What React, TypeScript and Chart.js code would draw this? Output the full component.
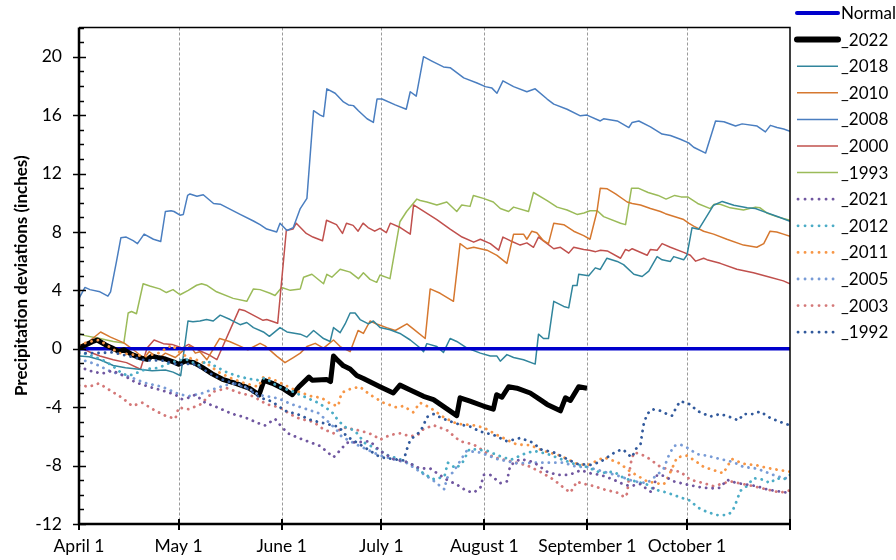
import React, { useEffect, useRef } from "react";
import { Chart, registerables } from "chart.js";

Chart.register(...registerables);

type P = [number, number];

// x = days since April 1, y = precipitation deviation (inches)
const monthDays = [0, 30, 61, 91, 122, 153, 183, 214];
const monthLabels = ["April 1", "May 1", "June 1", "July 1", "August 1", "September 1", "October 1", ""];
const yTicks = [-12, -8, -4, 0, 4, 8, 12, 16, 20];

const sNormal: P[] = [[0, 0], [214, 0]];

const s2022: P[] = [[0,0.05],[2,0.26],[4,0.48],[5.5,0.6],[8,0.26],[10,0.05],[12,-0.18],[13.5,-0.07],[16,-0.4],[18.5,-0.62],[20.5,-0.73],[22,-0.5],[24,-0.62],[26,-0.7],[29,-0.95],[30,-1.06],[32,-0.84],[34.6,-0.95],[37.1,-1.28],[40.1,-1.72],[43.2,-2.09],[47.2,-2.37],[51.2,-2.7],[54.2,-3.15],[55.7,-2.16],[58.2,-2.37],[61.2,-2.7],[64.2,-3.15],[66.2,-2.6],[69.2,-1.94],[70.2,-2.16],[74.5,-2.1],[75.7,-2.25],[76.6,-0.5],[77.6,-0.73],[79.6,-1.17],[81.6,-1.39],[83.6,-1.83],[85.6,-2.04],[90.6,-2.6],[94.6,-3.03],[96.6,-2.49],[99.7,-2.82],[103.7,-3.26],[106.7,-3.48],[113.7,-4.58],[114.7,-3.36],[117.7,-3.59],[121.7,-3.92],[124.7,-4.14],[125.7,-3.15],[127.3,-3.32],[129.3,-2.6],[131.8,-2.7],[135.8,-3.03],[138.8,-3.48],[140.9,-3.81],[144.9,-4.25],[146.4,-3.36],[147.9,-3.54],[150.4,-2.6],[152.9,-2.7]];

const s2018: P[] = [[0,-0.5],[3,-0.55],[6.3,-0.75],[10.3,-1.15],[14,-1.3],[18,-1.4],[22,-1.5],[26,-1.45],[28.3,-1.6],[30.6,-1.85],[32.8,1.9],[34.3,1.85],[36.4,1.9],[38.4,2.0],[40.4,1.9],[42.5,2.3],[45.5,2.0],[48.5,1.65],[50.5,1.8],[52.5,1.45],[55.5,1.15],[57.3,0.85],[60.5,1.45],[62.6,1.15],[66.6,1.0],[68.6,0.8],[70.6,1.25],[73.6,0.7],[75.6,0.5],[76.6,1.45],[78.6,1.1],[80.1,1.7],[81.6,2.45],[83.1,2.45],[84.6,2.0],[87.1,1.7],[88.6,1.9],[90.6,1.45],[93.6,1.3],[96.6,1.05],[99.7,0.6],[102.7,0.05],[103.7,-0.2],[104.7,0.35],[107.7,0.15],[109.7,-0.25],[111.7,0.7],[113.7,0.5],[116.8,0.05],[120.8,-0.3],[123.8,-0.5],[125.8,-0.5],[126.8,-0.85],[128.8,-0.4],[130.8,-0.6],[133.8,-0.75],[137.3,-1.05],[138.3,1.0],[139.8,0.7],[141.3,0.7],[142.9,3.25],[145.9,2.9],[147.4,2.8],[148.6,4.33],[149.9,4.33],[150.4,5.1],[153.4,5.0],[155.4,5.54],[156.9,5.43],[158.9,6.2],[162,5.98],[163.9,5.76],[167,5.1],[169.5,4.95],[171.5,5.32],[174,6.31],[175.5,6.09],[178,5.98],[179,6.31],[182,6.09],[183,6.42],[184.5,8.28],[186.5,8.18],[188,8.73],[191,9.83],[193.6,10.09],[197.1,9.83],[201.1,9.65],[203.6,9.6],[206.1,9.39],[210.2,9.06],[214,8.73]];

const s2010: P[] = [[0,0.2],[3,0.5],[6.5,1.15],[9.5,0.8],[13.5,0.4],[16,0.0],[19.6,-0.65],[21.1,-0.2],[24.1,-0.65],[26,-0.3],[29,-0.6],[31,-0.2],[33.5,0.2],[35,-0.3],[36.4,-0.2],[38.5,-0.75],[42.3,0.7],[45.3,0.5],[48.3,0.2],[50.8,-0.07],[54.5,0.37],[56,0.2],[59.5,-0.5],[62,-0.95],[64.5,-0.6],[66.6,-0.3],[68.6,0.15],[71.1,0.37],[73.6,0.04],[76.6,0.6],[78.6,0.15],[81.6,-0.2],[84,1.25],[85.6,1.05],[87.6,1.9],[89.6,1.7],[92.6,1.45],[95.2,1.25],[98.7,1.7],[100.7,1.35],[104.2,0.7],[105.7,4.1],[108.7,3.8],[112.7,3.25],[114.7,7.2],[116.8,6.85],[118.8,6.95],[122.8,6.75],[125.8,6.4],[128.8,5.85],[130.8,7.85],[133.8,7.85],[134.8,7.5],[136.3,8.05],[137.8,7.95],[139.8,7.4],[141.3,7.2],[142.9,8.6],[145.9,8.5],[148.9,8.05],[151.9,7.75],[153.8,7.5],[155.9,9.4],[156.9,11.0],[159,10.95],[161.5,10.6],[165,10.05],[166.5,9.95],[169,9.85],[172,9.6],[175,9.4],[176.5,9.25],[182,8.85],[183.5,8.6],[185,8.4],[188,8.05],[191,7.85],[195,7.5],[200,7.1],[204,6.95],[206.1,7.2],[208,8.05],[210,8.0],[212,7.85],[214,7.7]];

const s2008: P[] = [[0,3.45],[1.8,4.2],[3.3,4.05],[6.3,3.9],[8.7,3.6],[9.5,3.9],[11.3,6.0],[12.6,7.6],[14.2,7.65],[16.3,7.4],[17.6,7.2],[19.6,7.85],[22.4,7.5],[24.6,7.35],[26,9.4],[27.7,9.45],[28.6,9.4],[30.4,9.15],[31.4,9.2],[32.7,10.5],[33.4,10.6],[35.5,10.45],[37.4,10.55],[40.5,9.95],[42.5,9.9],[48.5,9.2],[52.5,8.75],[54.5,8.5],[56.5,8.2],[59.5,8.0],[60.5,8.6],[62.6,8.1],[64.5,8.3],[66.6,9.6],[68.6,10.3],[70.6,16.3],[72.6,16.0],[73.6,15.9],[74.6,17.8],[77.1,17.5],[79.6,16.9],[81.1,16.7],[82.6,16.65],[84.1,16.3],[86.7,15.75],[88.6,15.5],[89.7,17.1],[91.2,17.1],[95.2,16.7],[98.5,16.4],[99.7,17.6],[101.5,17.3],[103.7,20.0],[106.2,19.7],[109.7,19.3],[111.7,19.25],[115.8,18.55],[119.8,18.2],[122.3,17.95],[124.3,17.85],[125.8,17.5],[127.6,18.35],[130.8,17.95],[134.8,17.6],[137.3,17.8],[140.9,17.1],[142.9,16.75],[146.9,16.4],[150.9,15.95],[152.9,16.0],[156.9,15.6],[157.9,15.75],[162,15.6],[165.5,15.15],[166.5,15.5],[168.5,15.6],[172,15.2],[175.5,14.7],[178,14.6],[181,14.35],[183.5,14.1],[185,13.8],[188.6,13.4],[191.6,15.6],[194.1,15.55],[197.6,15.25],[199.6,15.4],[204.1,15.25],[206.6,14.85],[208.1,15.3],[210.1,15.15],[212.1,15.05],[214,14.9]];

const s2000: P[] = [[0,0.1],[3,-0.2],[6.3,-0.5],[10.3,-0.75],[14.3,-0.95],[18.5,-1.4],[20.5,0.05],[22.6,0.6],[25.4,0.35],[28,0.3],[31,0.05],[33,0.3],[36,-0.1],[39,-0.4],[41.5,-0.75],[48.2,2.7],[50,2.6],[55.4,1.95],[56.5,2.0],[59.8,1.75],[62.4,8.1],[64.4,8.2],[65.4,8.6],[68.4,7.9],[70.4,7.65],[73.3,7.4],[74.5,8.8],[77.5,8.5],[79.3,7.9],[80.5,8.6],[82.5,8.45],[84,8.05],[85.5,8.6],[87,8.3],[89,8.05],[90.6,8.25],[92.5,7.95],[93.7,8.6],[96.7,8.3],[99.7,7.85],[100.7,9.85],[103.2,9.5],[107.7,8.85],[111.7,8.2],[115.3,7.65],[118.8,7.3],[120.8,7.5],[123.8,7.2],[126.3,6.75],[127.6,7.65],[129.8,7.4],[132.8,7.1],[134.8,7.25],[136.8,6.95],[138.3,7.65],[140.9,7.2],[142.9,6.85],[144.9,6.95],[147.4,6.55],[148.9,6.95],[151.9,6.8],[153.6,6.75],[155.5,6.65],[157,6.75],[159,6.7],[163,6.2],[164.5,6.8],[165.5,6.7],[166.5,6.85],[171,6.4],[172,6.8],[174,6.75],[175.5,7.2],[178,6.95],[182,6.6],[184,6.4],[185.6,6.0],[188,6.2],[189,6.1],[193,5.85],[198,5.45],[203,5.2],[208,4.9],[212,4.65],[214,4.45]];

const s1993: P[] = [[0,1.05],[1.8,0.9],[6.3,0.7],[10.3,0.5],[13.5,0.4],[14.8,2.45],[15.8,2.55],[17.3,2.4],[19.3,4.45],[21.3,4.3],[24.3,4.1],[26.3,3.85],[28.3,4.05],[30.4,3.7],[32.9,4.0],[35.4,4.35],[36.9,4.45],[38.4,4.35],[41.4,3.9],[46.4,3.45],[50.5,3.25],[52.5,4.1],[54.5,4.05],[57.5,3.8],[59,3.65],[61,4.2],[63.6,4.0],[66.6,4.1],[67.6,4.9],[70.1,5.1],[73.6,4.45],[74.6,5.1],[76.1,4.9],[78.6,5.45],[81.6,5.25],[84.1,4.8],[85.6,5.2],[87.6,4.75],[89.6,4.55],[90.6,5.05],[93.6,4.8],[96.6,8.7],[98.6,9.4],[101.7,10.25],[102.7,10.15],[104.7,10.05],[107.7,9.85],[110.7,10.05],[113.7,9.4],[115.2,9.85],[117.7,9.75],[118.7,10.5],[121.7,10.3],[124.7,10.05],[126.8,9.6],[129.3,9.4],[130.8,9.7],[135.3,9.4],[136.8,10.7],[140.9,10.15],[143.9,9.7],[146.9,9.5],[149.9,9.2],[152,9.3],[153.8,9.45],[156,9.45],[157.9,9.05],[163,8.6],[164.5,8.5],[166.3,11.0],[168.3,11.0],[171.3,10.7],[174.3,10.5],[176.7,10.25],[179.3,10.5],[181.2,10.4],[183.2,10.4],[186.2,9.95],[190,9.6],[191.2,9.9],[193,9.9],[196,9.65],[200,9.5],[203.6,9.7],[205,9.65],[207,9.3],[210,9.05],[214,8.8]];

const s2021: P[] = [[0,-1.2],[3,-1.5],[7,-1.7],[10,-1.5],[14,-1.9],[17,-2.3],[21,-2.6],[25,-2.85],[29,-3.15],[31,-3.45],[33,-3.35],[35,-3.15],[38,-3.7],[41,-3.95],[46,-4.45],[50,-4.7],[54,-5.1],[56,-5.25],[59,-4.8],[61,-5.35],[63,-5.8],[66,-6.1],[72.6,-6.66],[76.6,-7.43],[78,-7.1],[80.6,-6.44],[84,-6.4],[87.6,-6.33],[90.6,-6.99],[94.6,-7.55],[98.7,-7.76],[102.7,-8.2],[105.7,-8.2],[110.7,-8.97],[113.7,-9.3],[116.7,-9.74],[118.8,-9.85],[120.8,-9.52],[121.8,-8.64],[123.8,-8.64],[126.8,-9.2],[128.8,-9.08],[129.8,-7.98],[132.8,-7.55],[136.8,-7.76],[140.9,-8.42],[144,-8.64],[146.9,-8.64],[148.9,-8.53],[151,-8.31],[154,-8.53],[157,-8.64],[161,-8.97],[164,-9.3],[166,-9.41],[169,-9.26],[171,-9.63],[172.5,-9.85],[174,-8.64],[176,-8.69],[179,-9.08],[183,-9.3],[187,-9.48],[190,-9.56],[193,-9.52],[195,-8.97],[198,-9.2],[201,-9.3],[204,-9.41],[207,-9.63],[210,-9.74],[213,-9.85],[214,-9.74]];

const s2012: P[] = [[0,-0.2],[4,-0.5],[7,-0.75],[10,-1.15],[13,-1.7],[15,-1.85],[18,-1.6],[20,-1.4],[24,-1.3],[27,-1.0],[30,-0.8],[32.4,-0.73],[36.4,-1.17],[38.5,-0.8],[41,-1.2],[44.4,-1.6],[47.4,-1.85],[51,-2.05],[54,-2.15],[56,-2.0],[60,-2.6],[64,-2.9],[68,-3.3],[72,-3.7],[76,-4.3],[78,-4.9],[80,-5.35],[83,-5.6],[86,-6.45],[90,-6.9],[93,-7.3],[97,-7.6],[101,-8.0],[104,-8.6],[107,-8.95],[110,-8.75],[111,-7.8],[113.5,-8.2],[115.5,-7.76],[117.5,-6.88],[120,-6.9],[123,-7.0],[126,-7.3],[130,-7.6],[134,-7.2],[137,-7.0],[141,-7.2],[145,-7.55],[149,-7.88],[153,-8.1],[157,-8.5],[161,-8.42],[164,-8.86],[171,-9.3],[173,-9.63],[177,-9.85],[181,-10.18],[184,-10.4],[186,-10.84],[189,-11.17],[192,-11.39],[195,-11.39],[196.6,-11.17],[198,-10.4],[199,-9.74],[201,-9.41],[203,-8.86],[206,-8.97],[208,-9.2],[210,-8.86],[212,-8.97],[214,-8.64]];

const s2011: P[] = [[0,0.26],[3,0.48],[6,0.6],[9,0.15],[12,-0.29],[16,-0.4],[20,-0.51],[24,-0.29],[28,0.26],[30,-0.2],[33,-0.62],[35,-0.73],[39,-1.1],[42,-1.6],[46,-2.04],[50,-2.37],[54,-2.6],[55.5,-1.94],[58,-2.04],[62,-2.49],[66,-2.93],[70,-3.26],[73,-3.36],[76,-3.81],[78,-3.92],[79,-3.03],[81,-2.8],[84.5,-2.6],[87.6,-3.15],[91.6,-3.69],[95.6,-4.02],[97.6,-3.92],[100.6,-4.35],[102.6,-3.69],[105.6,-4.02],[109.7,-4.68],[113.7,-5.13],[118.8,-5.24],[121.8,-5.4],[125.8,-5.9],[131.8,-6.56],[135.8,-6.6],[139.8,-6.99],[144.9,-7.32],[149.9,-7.88],[153,-7.98],[157,-7.55],[157.9,-7.43],[160,-7.6],[162,-7.76],[163.5,-7.98],[166,-8.42],[168.5,-8.75],[171,-9.08],[176,-9.3],[177.5,-8.7],[178.5,-8.2],[180,-7.43],[183,-7.32],[186,-7.76],[188,-8.09],[191,-8.31],[194,-8.53],[195,-8.09],[196.6,-7.55],[200,-7.88],[204,-7.98],[207,-8.16],[211,-8.31],[214,-8.42]];

const s2005: P[] = [[0,-0.7],[5,-1.05],[10,-1.6],[15,-1.9],[20,-2.35],[25,-2.6],[30,-3.1],[33,-3.25],[37,-3.05],[40,-2.8],[44,-2.5],[47,-2.35],[51,-2.7],[54,-3.15],[60,-3.4],[64,-3.8],[68,-4.1],[72,-4.4],[75,-5.0],[77.6,-5.57],[79,-6.0],[83,-6.5],[86.5,-6.88],[90.5,-7.3],[94.5,-7.55],[98.5,-7.8],[102.5,-8.4],[106.5,-9.0],[110,-9.63],[110.7,-8.86],[112.7,-8.42],[115.7,-7.32],[116.7,-6.99],[120.8,-7.1],[125.8,-7.55],[131.8,-7.85],[137.8,-7.8],[145.8,-7.8],[149.9,-8.09],[153,-8.1],[158,-8.42],[163,-8.75],[167,-9.08],[171,-9.2],[174,-8.64],[176,-8.2],[177.5,-7.32],[179,-6.66],[181,-6.56],[183,-6.77],[186,-7.21],[189,-7.32],[193,-7.55],[197,-7.76],[200,-8.09],[204,-8.2],[209,-8.64],[212,-8.86],[214,-8.86]];

const s2003: P[] = [[0,-2.5],[3,-2.6],[6,-2.37],[9,-2.8],[13,-3.36],[16,-3.92],[19,-3.69],[23,-4.25],[26,-4.58],[29,-4.8],[30,-4.02],[33,-4.14],[36.5,-3.81],[40.5,-2.93],[44.5,-2.7],[48.5,-3.03],[52.5,-3.26],[56.5,-3.81],[60.5,-4.02],[63.5,-4.47],[66.5,-4.8],[70.5,-5.0],[73.5,-5.5],[76.6,-5.79],[79.6,-5.4],[82.6,-5.5],[86,-5.7],[88.6,-5.9],[90.6,-6.23],[93.7,-5.9],[96.7,-5.79],[99.7,-6.0],[102,-5.9],[103.7,-5.5],[106.7,-5.24],[110.7,-5.57],[114.7,-6.33],[118.8,-6.56],[124.8,-7.43],[130.8,-7.76],[134.8,-7.98],[138.8,-8.42],[142.9,-8.97],[145.9,-9.52],[147.9,-9.85],[149.9,-9.08],[151,-9.2],[155,-9.41],[158,-9.63],[162,-9.85],[164.3,-10.18],[165,-9.9],[166,-7.88],[167,-7.1],[169,-7.21],[171,-7.43],[175,-8.09],[178,-8.31],[181,-8.42],[184,-8.97],[188,-9.2],[191,-9.41],[196,-9.08],[203,-9.41],[207,-9.63],[211,-9.85],[214,-9.7]];

const s1992: P[] = [[0,-0.3],[5,-0.3],[10,-0.25],[15,-0.5],[20,-0.8],[25,-0.8],[30,-1.1],[34,-1.0],[37,-1.35],[40,-1.75],[43,-2.1],[47,-2.4],[51,-2.75],[54.5,-3.35],[58,-3.6],[62,-4.25],[66,-4.5],[70,-4.9],[74.3,-5.13],[78.2,-5.35],[80.6,-6.0],[84.6,-6.56],[90.7,-7.43],[97.7,-7.65],[98.7,-6.88],[99.7,-6.23],[102.7,-5.67],[103.7,-5.24],[104.7,-4.68],[106.7,-4.47],[109.7,-4.8],[113.7,-5.13],[117.8,-5.34],[120.8,-5.67],[124.8,-5.9],[128.8,-6.33],[132.8,-6.11],[136.8,-6.44],[138.8,-6.88],[142.9,-7.1],[146.9,-7.55],[149.9,-7.88],[153.9,-7.95],[156.9,-7.75],[158.9,-7.45],[161.9,-7.0],[163.9,-6.9],[165,-7.21],[166.5,-7.43],[167.5,-6.88],[169,-6.56],[169.5,-5.79],[170,-5.13],[171,-4.47],[172.5,-4.14],[175,-4.25],[177,-4.47],[178.5,-4.58],[180,-3.92],[181,-3.59],[184,-3.81],[186,-4.25],[190,-4.64],[193,-4.47],[196,-4.68],[198.5,-4.91],[200,-4.47],[203,-4.47],[205,-4.29],[208,-4.73],[211,-5.01],[214,-5.24]];

type Spec = { label: string; data: P[]; color: string; width: number; dotted: boolean; order: number };

const seriesTable: Spec[] = [
  { label: "Normal", data: sNormal, color: "#0000CC", width: 3.5, dotted: false, order: 6 },
  { label: "_2022", data: s2022, color: "#000000", width: 5, dotted: false, order: 5 },
  { label: "_2018", data: s2018, color: "#31859C", width: 1.5, dotted: false, order: 10 },
  { label: "_2010", data: s2010, color: "#D6782F", width: 1.5, dotted: false, order: 10 },
  { label: "_2008", data: s2008, color: "#4A7EC0", width: 1.5, dotted: false, order: 10 },
  { label: "_2000", data: s2000, color: "#C0504D", width: 1.5, dotted: false, order: 10 },
  { label: "_1993", data: s1993, color: "#9BBB59", width: 1.5, dotted: false, order: 10 },
  { label: "_2021", data: s2021, color: "#7057A0", width: 2.8, dotted: true, order: 2 },
  { label: "_2012", data: s2012, color: "#4BACC6", width: 2.8, dotted: true, order: 2 },
  { label: "_2011", data: s2011, color: "#F79646", width: 2.8, dotted: true, order: 2 },
  { label: "_2005", data: s2005, color: "#789BD6", width: 2.8, dotted: true, order: 2 },
  { label: "_2003", data: s2003, color: "#D47878", width: 2.8, dotted: true, order: 2 },
  { label: "_1992", data: s1992, color: "#31599C", width: 2.8, dotted: true, order: 1 },
];

const FONT = "Lato, 'Open Sans', 'DejaVu Sans', sans-serif";

const framePlugin = {
  id: "frameAndLegend",
  beforeDatasetsDraw(chart: any) {
    const { ctx, chartArea: a, scales } = chart;
    const x = scales.x;
    ctx.save();
    ctx.strokeStyle = "#9a9a9a";
    ctx.lineWidth = 1;
    ctx.setLineDash([3, 2]);
    for (const d of monthDays.slice(1, -1)) {
      const px = Math.round(x.getPixelForValue(d)) + 0.5;
      ctx.beginPath();
      ctx.moveTo(px, a.top);
      ctx.lineTo(px, a.bottom);
      ctx.stroke();
    }
    ctx.restore();
  },
  afterDatasetsDraw(chart: any) {
    const { ctx, chartArea: a, scales } = chart;
    const x = scales.x;
    const y = scales.y;
    ctx.save();
    ctx.strokeStyle = "#000";
    ctx.setLineDash([]);
    ctx.lineWidth = 1.5;
    ctx.beginPath();
    ctx.moveTo(a.left, a.top);
    ctx.lineTo(a.right, a.top);
    ctx.lineTo(a.right, a.bottom);
    ctx.stroke();
    ctx.lineWidth = 2.5;
    ctx.beginPath();
    ctx.moveTo(a.left, a.top);
    ctx.lineTo(a.left, a.bottom);
    ctx.lineTo(a.right, a.bottom);
    ctx.stroke();
    ctx.lineWidth = 1.5;
    for (let v = -12; v <= 22; v++) {
      const py = Math.round(y.getPixelForValue(v)) + 0.5;
      ctx.beginPath();
      if (v % 4 === 0) {
        ctx.moveTo(a.left - 6, py);
        ctx.lineTo(a.left + 7, py);
      } else {
        ctx.moveTo(a.left, py);
        ctx.lineTo(a.left + 5, py);
      }
      ctx.stroke();
    }
    ctx.lineWidth = 2;
    for (const d of monthDays) {
      const px = Math.round(x.getPixelForValue(d));
      ctx.beginPath();
      ctx.moveTo(px, a.bottom - 5);
      ctx.lineTo(px, a.bottom + 6);
      ctx.stroke();
    }
    ctx.restore();
  },
  afterDraw(chart: any) {
    const { ctx } = chart;
    ctx.save();
    ctx.font = `17px ${FONT}`;
    ctx.textBaseline = "middle";
    ctx.textAlign = "left";
    seriesTable.forEach((s, i) => {
      const cy = 13 + i * 26.6;
      ctx.strokeStyle = s.color;
      ctx.lineWidth = s.label === "_2022" ? 6 : s.label === "Normal" ? 4 : s.width;
      if (s.dotted) {
        ctx.setLineDash([0.1, 6.9]);
        ctx.lineCap = "round";
      } else {
        ctx.setLineDash([]);
        ctx.lineCap = s.label === "_2022" || s.label === "Normal" ? "round" : "butt";
      }
      ctx.beginPath();
      ctx.moveTo(s.dotted ? 798 : 797, cy);
      ctx.lineTo(838, cy);
      ctx.stroke();
      ctx.fillStyle = "#000";
      ctx.fillText(s.label, 841, cy + 0.5);
    });
    ctx.restore();
  },
};

export default function App() {
  const ref = useRef<HTMLCanvasElement | null>(null);

  useEffect(() => {
    if (!ref.current) return;
    const datasets = seriesTable.map((s) => ({
      label: s.label,
      data: s.data.map(([dx, vy]) => ({ x: dx, y: vy })),
      borderColor: s.color,
      backgroundColor: s.color,
      borderWidth: s.width,
      borderDash: s.dotted ? [0.1, 6.4] : [],
      borderCapStyle: s.dotted ? "round" : "butt",
      borderJoinStyle: "round",
      pointRadius: 0,
      tension: 0,
      fill: false,
      order: s.order,
    }));

    const chart = new Chart(ref.current, {
      type: "line",
      data: { datasets } as any,
      options: {
        animation: false,
        responsive: false,
        maintainAspectRatio: false,
        layout: { padding: { left: 0, top: 9, right: 106, bottom: 0 } },
        plugins: { legend: { display: false }, tooltip: { enabled: false } },
        scales: {
          x: {
            type: "linear",
            min: 0,
            max: 214,
            grid: { display: false, drawTicks: false },
            border: { display: false },
            afterBuildTicks: (s: any) => {
              s.ticks = monthDays.map((v) => ({ value: v }));
            },
            afterFit: (s: any) => {
              s.height = 36;
            },
            ticks: {
              autoSkip: false,
              maxRotation: 0,
              minRotation: 0,
              padding: 12,
              color: "#000",
              font: { family: FONT, size: 17.5 },
              callback: (_v: any, i: number) => monthLabels[i],
            },
          },
          y: {
            type: "linear",
            min: -12,
            max: 22,
            grid: { display: false, drawTicks: false },
            border: { display: false },
            afterBuildTicks: (s: any) => {
              s.ticks = yTicks.map((v) => ({ value: v }));
            },
            afterFit: (s: any) => {
              s.width = 79;
            },
            ticks: {
              padding: 17,
              color: "#000",
              font: { family: FONT, size: 17.5 },
              callback: (v: any) => String(v),
            },
            title: {
              display: true,
              text: "Precipitation deviations (inches)",
              color: "#000",
              font: { family: FONT, size: 17, weight: "bold" },
              padding: { top: 11, bottom: 0 },
            },
          },
        },
      } as any,
      plugins: [framePlugin],
    });
    return () => chart.destroy();
  }, []);

  return (
    <div style={{ position: "absolute", left: 0, top: 0, width: 896, height: 560, background: "#fff" }}>
      <canvas ref={ref} width={896} height={560} style={{ display: "block" }} />
    </div>
  );
}
